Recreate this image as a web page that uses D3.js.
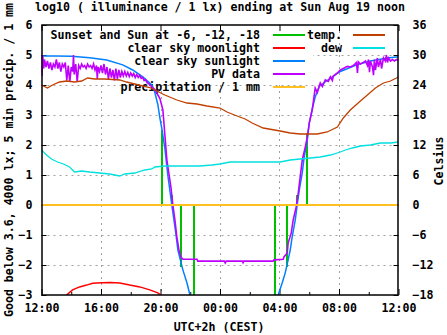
<!DOCTYPE html>
<html><head><meta charset="utf-8">
<script src="https://cdn.jsdelivr.net/npm/d3@7"></script>
<style>
body{margin:0;background:#fff}
text{font-family:"DejaVu Sans Mono",monospace;font-weight:bold;font-size:11.6px;fill:#000}
</style>
</head><body><svg id="c" width="447" height="335"></svg>
<script>
// ---------- data ----------
const title = "log10 ( illuminance / 1 lx) ending at Sun Aug 19 noon";
const xLabel = "UTC+2h (CEST)";
const yLeftLabel = "Good below 3.6, 4000 lx; 5 min precip. / 1 mm";
const yRightLabel = "Celsius";
const xTickHours = [0, 4, 8, 12, 16, 20, 24];
const xTickLabels = ["12:00", "16:00", "20:00", "00:00", "04:00", "08:00", "12:00"];
const xMinorHours = [2, 6, 10, 14, 18, 22];
const yLeftTicks = [-3, -2, -1, 0, 1, 2, 3, 4, 5, 6];
const yRightTicks = [-18, -12, -6, 0, 6, 12, 18, 24, 30, 36];

// hours after 12:00 , value
const sunEvents = [[8.09, 2.5], [8.75, 0.33], [9.37, -2.07], [10.25, -3.2],
  [15.71, -3.2], [16.52, -2.07], [17.19, 0.33], [17.87, 2.4]];

const moonlight = [[1.40, -3.3], [1.69, -3.0], [2.09, -2.83], [2.56, -2.73], [3.03, -2.67], [3.44, -2.61],
  [4.05, -2.59], [4.65, -2.58], [5.26, -2.6], [5.93, -2.67], [6.61, -2.73], [7.28, -2.83], [7.82, -2.93],
  [8.09, -3.03], [8.40, -3.3]];

const sunlight = [[0, 4.97], [1.0, 4.97], [2.02, 4.96], [3.24, 4.91], [4.38, 4.83], [5.46, 4.67], [6.13, 4.5],
  [6.81, 4.27], [7.42, 4.0], [7.62, 3.75], [7.82, 3.35], [7.96, 2.9], [8.09, 2.55], [8.29, 1.9], [8.49, 1.0],
  [8.76, 0.0], [9.03, -0.95], [9.17, -1.5], [9.37, -1.9], [9.51, -2.17], [9.78, -2.6], [9.98, -3.0],
  [10.3, -3.6], [15.8, -3.6], [15.91, -3.0], [16.18, -2.6], [16.38, -2.27], [16.58, -1.83], [16.72, -1.5],
  [16.85, -1.07], [17.06, -0.5], [17.19, 0], [17.33, 0.5], [17.53, 1.07], [17.66, 1.6], [17.87, 2.17],
  [18.0, 2.73], [18.2, 3.2], [18.4, 3.6], [18.67, 3.95], [19.2, 4.15], [20.09, 4.45], [21.24, 4.68],
  [22.11, 4.8], [23.26, 4.9], [24, 4.94]];

const pvData = [[0.00, 4.95], [0.03, 4.30], [0.08, 5.00], [0.15, 4.55], [0.20, 4.85], [0.30, 4.60], [0.40, 4.80],
  [0.50, 4.55], [0.60, 4.75], [0.70, 4.50], [0.80, 4.70], [0.90, 4.60], [1.00, 4.85], [1.10, 4.55],
  [1.20, 4.75], [1.30, 4.45], [1.40, 4.70], [1.50, 4.60], [1.60, 4.75], [1.70, 4.15], [1.80, 4.65],
  [1.90, 4.10], [2.00, 4.60], [2.10, 4.45], [2.15, 5.00], [2.20, 4.35], [2.30, 4.70], [2.40, 4.10],
  [2.50, 4.65], [2.60, 4.55], [2.70, 4.70], [2.80, 4.60], [2.90, 4.65], [3.00, 4.55], [3.10, 4.70],
  [3.20, 4.60], [3.30, 4.65], [3.40, 4.55], [3.50, 4.70], [3.60, 4.50], [3.70, 4.65], [3.75, 4.20],
  [3.80, 4.60], [3.90, 4.45], [4.00, 4.65], [4.10, 4.40], [4.20, 4.70], [4.30, 4.35], [4.40, 4.60],
  [4.50, 4.20], [4.60, 4.55], [4.70, 4.25], [4.80, 4.50], [4.90, 4.15], [5.00, 4.55], [5.10, 4.20],
  [5.20, 4.50], [5.30, 4.25], [5.40, 4.45], [5.50, 4.30], [5.60, 4.45], [5.70, 4.30], [5.80, 4.42],
  [5.90, 4.28], [6.00, 4.40], [6.10, 4.30], [6.20, 4.38], [6.30, 4.25], [6.40, 4.35], [6.50, 4.25],
  [6.60, 4.32], [6.70, 4.22], [6.80, 4.25], [6.90, 4.15], [7.00, 4.18], [7.10, 4.08], [7.20, 4.05],
  [7.28, 4.00], [7.62, 3.85], [7.96, 3.55], [8.16, 3.17], [8.43, 1.5], [8.70, 0.6], [8.83, 0.0],
  [8.97, -0.5], [9.10, -1.07], [9.24, -1.5], [9.37, -1.73], [9.51, -1.81], [10.45, -1.81], [10.5, -1.87],
  [12.3, -1.87], [12.35, -1.93], [12.42, -1.87], [13.5, -1.87], [13.55, -1.92], [13.6, -1.87],
  [15.57, -1.87], [15.64, -1.83], [16.25, -1.81], [16.30, -1.73], [16.52, -1.6], [16.58, -1.27],
  [16.79, -0.93], [16.92, -0.5], [17.12, -0.07], [17.26, 0.4], [17.39, 0.93], [17.53, 1.5], [17.73, 1.93],
  [17.87, 2.27], [18.0, 2.73], [18.2, 3.17], [18.4, 3.9], [18.54, 3.75], [18.74, 4.07], [18.88, 3.95],
  [19.08, 4.17], [19.28, 4.12], [19.42, 4.27], [19.55, 4.15], [19.62, 4.3], [19.89, 4.4], [20.09, 4.5],
  [20.29, 4.55], [20.56, 4.62], [20.76, 4.6], [20.97, 4.65], [21.17, 4.75], [21.24, 4.4], [21.30, 4.77],
  [21.44, 4.7], [21.57, 4.73], [21.78, 4.8], [21.91, 4.65], [21.98, 4.85], [22.05, 4.43], [22.11, 4.8],
  [22.25, 4.6], [22.32, 4.33], [22.38, 4.85], [22.45, 4.5], [22.58, 4.9], [22.65, 4.6], [22.79, 4.85],
  [22.86, 4.55], [22.99, 4.9], [23.12, 4.8], [23.19, 5.0], [23.26, 4.75], [23.33, 4.9], [23.46, 4.8],
  [23.60, 4.85], [23.73, 4.8], [23.87, 4.85], [24.0, 4.82]];

const precipitation = [[0, 0], [24, 0]];

// Celsius
const temperature = [[0, 24.0], [0.40, 23.4], [0.74, 24.0], [1.21, 24.6], [1.69, 24.8], [2.22, 24.6],
  [2.70, 24.8], [3.10, 25.4], [3.57, 25.2], [4.25, 25.2], [4.79, 25.1], [5.26, 25.0], [5.73, 24.6],
  [6.27, 24.2], [6.81, 23.8], [7.28, 23.5], [7.75, 22.8], [8.29, 22.0], [9.10, 21.0], [9.78, 20.4],
  [10.45, 20.2], [11.12, 19.8], [12.0, 19.4], [12.47, 18.6], [13.15, 17.8], [13.69, 17.2], [14.16, 16.4],
  [14.90, 15.4], [16.05, 14.8], [16.72, 14.4], [17.39, 14.2], [18.54, 14.2], [19.21, 14.6], [19.89, 15.6],
  [20.29, 17.4], [20.76, 19.0], [21.44, 20.8], [21.91, 22.0], [22.45, 23.4], [22.99, 24.4], [23.46, 24.8],
  [24, 25.6]];

const dewPoint = [[0, 11.0], [0.34, 10.0], [0.67, 9.2], [1.08, 8.6], [1.48, 8.2], [1.89, 7.6], [2.22, 6.6],
  [2.70, 6.8], [3.24, 6.6], [3.91, 6.4], [4.58, 6.2], [5.26, 5.8], [5.60, 6.2], [6.27, 6.4], [6.94, 7.0],
  [7.42, 7.2], [7.62, 7.6], [8.29, 7.8], [9.30, 7.8], [9.98, 7.8], [10.65, 7.8], [11.46, 8.0], [12.0, 8.2],
  [12.67, 8.6], [13.69, 8.6], [14.70, 8.6], [16.05, 8.6], [16.72, 9.0], [17.39, 9.2], [18.07, 9.4],
  [18.74, 9.6], [19.42, 10.0], [20.09, 10.6], [20.43, 11.0], [20.90, 11.4], [21.44, 11.8], [22.11, 12.0],
  [22.79, 12.4], [23.46, 12.4], [24, 12.6]];

// ---------- chart ----------
const L = 41.5, R = 398.5, T = 25, B = 295;
const svg = d3.select("#c");
const x = d3.scaleLinear().domain([0, 24]).range([L, R]);
const y = d3.scaleLinear().domain([-3, 6]).range([B, T]);
const yR = d3.scaleLinear().domain([-18, 36]).range([B, T]);

svg.append("defs").append("clipPath").attr("id", "plot")
  .append("rect").attr("x", L).attr("y", T).attr("width", R - L).attr("height", B - T);

// grid
const grid = svg.append("g").attr("stroke", "#a0a0a0").attr("stroke-dasharray", "2,4").attr("stroke-width", 1);
xTickHours.filter(h => h > 0 && h < 24).forEach(h => {
  grid.append("line").attr("x1", Math.round(x(h)) + 0.5).attr("x2", Math.round(x(h)) + 0.5).attr("y1", T).attr("y2", B);
});
yLeftTicks.filter(v => v > -3 && v < 6).forEach(v => {
  grid.append("line").attr("x1", L).attr("x2", R).attr("y1", Math.round(y(v)) + 0.5).attr("y2", Math.round(y(v)) + 0.5);
});
// key area (grid not drawn under key)
svg.append("rect").attr("x", 43).attr("y", 26).attr("width", 270).attr("height", 56).attr("fill", "#fff");

// axes ticks
const ax = svg.append("g");
ax.append("g").attr("transform", `translate(0,${B})`)
  .call(d3.axisBottom(x).tickValues(xTickHours).tickSize(-6).tickFormat((d, i) => xTickLabels[i]).tickPadding(9))
  .call(g => g.select(".domain").remove());
ax.append("g").attr("transform", `translate(0,${B})`)
  .call(d3.axisBottom(x).tickValues(xMinorHours).tickSize(-3).tickFormat(""))
  .call(g => g.select(".domain").remove());
ax.append("g").attr("transform", `translate(0,${T})`)
  .call(d3.axisTop(x).tickValues(xTickHours).tickSize(-6).tickFormat(""))
  .call(g => g.select(".domain").remove());
ax.append("g").attr("transform", `translate(${L},0)`)
  .call(d3.axisLeft(y).tickValues(yLeftTicks).tickSize(-5).tickFormat(d3.format("d")).tickPadding(9))
  .call(g => g.select(".domain").remove());
ax.append("g").attr("transform", `translate(${R},0)`)
  .call(d3.axisRight(yR).tickValues(yRightTicks).tickSize(-5).tickFormat(d3.format("d")).tickPadding(14))
  .call(g => g.select(".domain").remove());
ax.selectAll(".tick line").attr("stroke", "#000").attr("stroke-width", 1);
ax.selectAll("text").attr("font-family", null).attr("font-size", null).attr("fill", "#000");

// legend
const legendLeft = [
  {label: "Sunset and Sun at -6, -12, -18", color: "#00c000"},
  {label: "clear sky moonlight", color: "#ff0000"},
  {label: "clear sky sunlight", color: "#0080ff"},
  {label: "PV data", color: "#c000ff"},
  {label: "precipitation / 1 mm", color: "#ffc020"}];
const legendRight = [
  {label: "temp.", color: "#c04000"},
  {label: "dew", color: "#00e0e0"}];
const lg = svg.append("g");
legendLeft.forEach((d, i) => {
  const cy = 35 + 13 * i;
  lg.append("text").attr("x", 260).attr("y", cy + 4.3).attr("text-anchor", "end").text(d.label);
  lg.append("line").attr("x1", 273).attr("x2", 305).attr("y1", cy).attr("y2", cy)
    .attr("stroke", d.color).attr("stroke-width", 2).attr("shape-rendering", "crispEdges");
});
legendRight.forEach((d, i) => {
  const cy = 35 + 13 * i;
  lg.append("text").attr("x", 342).attr("y", cy + 4.3).attr("text-anchor", "end").text(d.label);
  lg.append("line").attr("x1", 353).attr("x2", 385).attr("y1", cy).attr("y2", cy)
    .attr("stroke", d.color).attr("stroke-width", 2).attr("shape-rendering", "crispEdges");
});

// data
const plot = svg.append("g").attr("clip-path", "url(#plot)").attr("fill", "none");
const lineL = d3.line().x(d => x(d[0])).y(d => y(d[1]));
const lineR = d3.line().x(d => x(d[0])).y(d => yR(d[1]));

plot.selectAll(".imp").data(sunEvents).join("line")
  .attr("x1", d => Math.round(x(d[0]))).attr("x2", d => Math.round(x(d[0])))
  .attr("y1", y(0)).attr("y2", d => y(d[1]))
  .attr("stroke", "#00c000").attr("stroke-width", 2).attr("shape-rendering", "crispEdges");
plot.append("path").datum(moonlight).attr("d", lineL).attr("stroke", "#ff0000").attr("stroke-width", 1.5);
plot.append("path").datum(sunlight).attr("d", lineL).attr("stroke", "#0080ff").attr("stroke-width", 1.5);
plot.append("path").datum(pvData).attr("d", lineL).attr("stroke", "#c000ff").attr("stroke-width", 1.6);
plot.append("path").datum(precipitation).attr("d", lineL).attr("stroke", "#ffc020").attr("stroke-width", 2)
  .attr("shape-rendering", "crispEdges");
plot.append("path").datum(temperature).attr("d", lineR).attr("stroke", "#c04000").attr("stroke-width", 1.3);
plot.append("path").datum(dewPoint).attr("d", lineR).attr("stroke", "#00e0e0").attr("stroke-width", 1.3);

// border
svg.append("rect").attr("x", 42).attr("y", 25).attr("width", 356).attr("height", 270)
  .attr("fill", "none").attr("stroke", "#000").attr("stroke-width", 1.5);

// labels
svg.append("text").attr("x", 220).attr("y", 10.5).attr("text-anchor", "middle").text(title);
svg.append("text").attr("x", 219).attr("y", 331).attr("text-anchor", "middle").text(xLabel);
svg.append("text").attr("transform", "translate(13,160) rotate(-90)").attr("text-anchor", "middle").text(yLeftLabel);
svg.append("text").attr("transform", "translate(443,161) rotate(-90)").attr("text-anchor", "middle").text(yRightLabel);
</script>
</body></html>
